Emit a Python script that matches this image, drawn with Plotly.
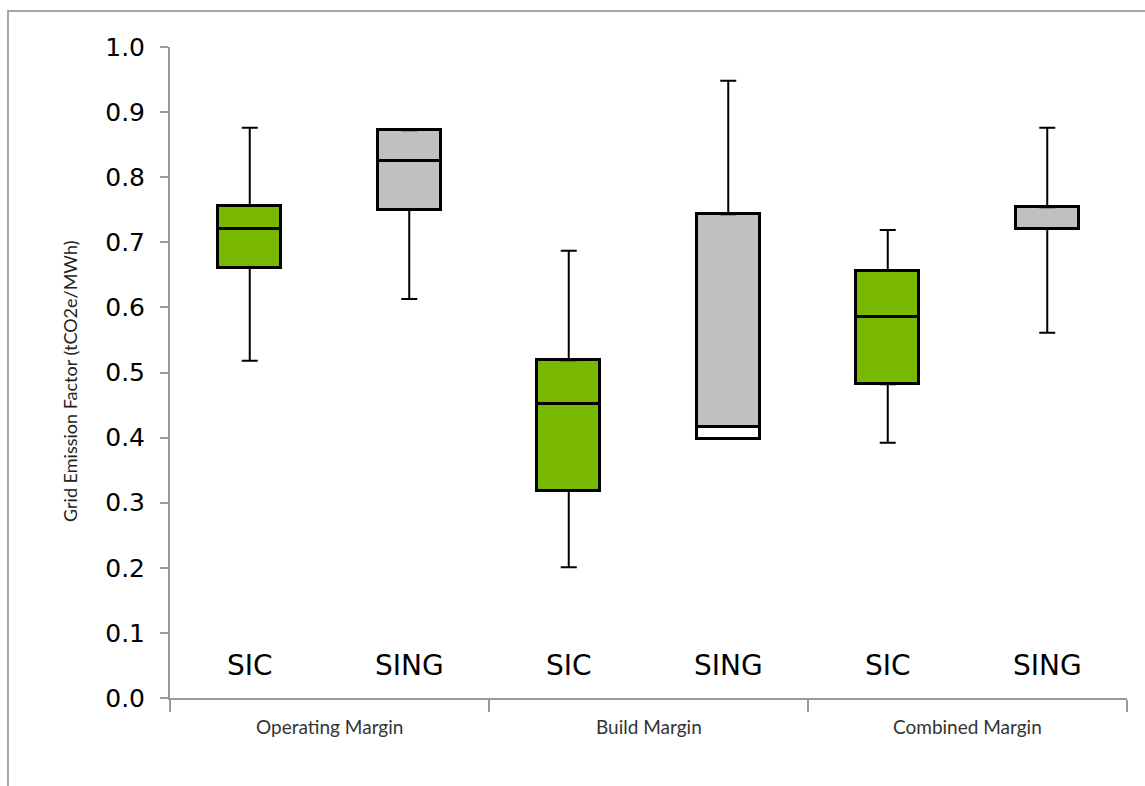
import plotly.graph_objects as go

# ---- data ----
groups = ["Operating Margin", "Build Margin", "Combined Margin"]
series_labels = ["SIC", "SING", "SIC", "SING", "SIC", "SING"]
whisker_min = [0.518, 0.613, 0.201, 0.398, 0.392, 0.561]
q1 = [0.661, 0.750, 0.318, 0.398, 0.482, 0.721]
median = [0.720, 0.825, 0.452, 0.416, 0.585, 0.721]
q3 = [0.756, 0.872, 0.519, 0.743, 0.656, 0.754]
whisker_max = [0.876, 0.872, 0.687, 0.948, 0.719, 0.876]
y_ticks = [0.0, 0.1, 0.2, 0.3, 0.4, 0.5, 0.6, 0.7, 0.8, 0.9, 1.0]

# ---- styles ----
GREEN = "#78b800"
GREY = "#c0c0c0"
lower_colors = [GREEN, GREY, GREEN, "#ffffff", GREEN, GREY]
upper_colors = [GREEN, GREY, GREEN, GREY, GREEN, GREY]

xs = list(range(len(series_labels)))

fig = go.Figure()

# lower half of boxes (q1 -> median)
fig.add_trace(go.Bar(
    x=xs, y=[m - a for m, a in zip(median, q1)], base=q1, width=0.395,
    marker=dict(color=lower_colors, line=dict(color="black", width=3)),
    hoverinfo="skip", showlegend=False))
# upper half of boxes (median -> q3)
fig.add_trace(go.Bar(
    x=xs, y=[b - m for b, m in zip(q3, median)], base=median, width=0.395,
    marker=dict(color=upper_colors, line=dict(color="black", width=3)),
    hoverinfo="skip", showlegend=False))

# upper whiskers
fig.add_trace(go.Scatter(
    x=xs, y=q3, mode="markers",
    marker=dict(size=1, color="rgba(0,0,0,0)"),
    error_y=dict(type="data", symmetric=False,
                 array=[mx - b for mx, b in zip(whisker_max, q3)],
                 arrayminus=[0] * len(xs), color="black", thickness=2, width=8),
    hoverinfo="skip", showlegend=False))
# lower whiskers
fig.add_trace(go.Scatter(
    x=xs, y=q1, mode="markers",
    marker=dict(size=1, color="rgba(0,0,0,0)"),
    error_y=dict(type="data", symmetric=False,
                 array=[0] * len(xs),
                 arrayminus=[a - mn for a, mn in zip(q1, whisker_min)],
                 color="black", thickness=2, width=8),
    hoverinfo="skip", showlegend=False))

annotations = []
for i, lab in enumerate(series_labels):
    annotations.append(dict(x=i, y=0.05, xref="x", yref="y", text=lab,
                            showarrow=False,
                            font=dict(family="DejaVu Sans", size=28, color="black")))
for g, name in enumerate(groups):
    annotations.append(dict(x=(2 * g + 1) / 6, y=-0.0445, xref="paper", yref="paper",
                            text=name, showarrow=False, xanchor="center",
                            yanchor="middle",
                            font=dict(family="Lato", size=19, color="#333333")))

annotations.append(dict(x=-0.1045, y=0.487, xref="paper", yref="paper",
                        text="Grid Emission Factor (tCO2e/MWh)", textangle=-90,
                        showarrow=False, xanchor="center", yanchor="middle",
                        font=dict(family="Lato", size=18, color="#222222")))

fig.update_layout(
    width=1145, height=786,
    margin=dict(l=170, r=18, t=47, b=88),
    paper_bgcolor="white", plot_bgcolor="white",
    barmode="overlay", bargap=0,
    annotations=annotations,
    shapes=[dict(type="rect", xref="paper", yref="paper",
                 x0=-0.1693, x1=1.06, y0=-0.16, y1=1.0553,
                 line=dict(color="#a6a6a6", width=2), fillcolor="rgba(0,0,0,0)",
                 layer="below")],
)
fig.update_xaxes(range=[-0.5, 5.5], showgrid=False, zeroline=False,
                 showline=True, linecolor="#999999", linewidth=2,
                 tickmode="array", tickvals=[-0.5, 1.5, 3.5, 5.5],
                 ticktext=["", "", "", ""], ticks="outside", ticklen=12,
                 tickcolor="#999999", tickwidth=2)
fig.update_yaxes(range=[0, 1], showgrid=False, zeroline=False,
                 showline=True, linecolor="#999999", linewidth=2,
                 tickmode="array", tickvals=y_ticks,
                 ticktext=[f"{v:.1f}" for v in y_ticks],
                 ticks="outside", ticklen=8, tickcolor="#999999", tickwidth=2,
                 ticklabelstandoff=10,
                 tickfont=dict(family="DejaVu Sans", size=25, color="black"))

fig.write_html("out.html")
